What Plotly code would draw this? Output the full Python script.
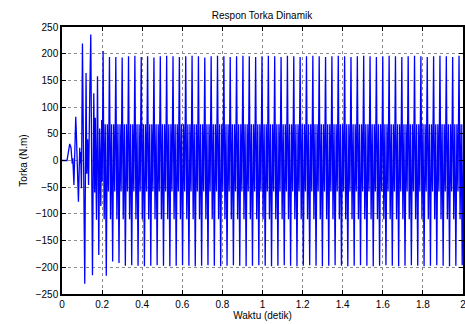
import plotly.graph_objects as go

# ---- data ----
# transient part: extremum times (s) and torque values (N.m)
transient_t = [0.000, 0.025, 0.0385, 0.045, 0.051, 0.054, 0.0595, 0.0685, 0.071,
               0.082, 0.0885, 0.091, 0.093, 0.097, 0.102, 0.1075, 0.1135, 0.120,
               0.1235, 0.128, 0.1325, 0.1385, 0.1435, 0.152, 0.1585, 0.163, 0.166,
               0.172, 0.177, 0.1835, 0.188, 0.1935, 0.198, 0.2005]
transient_v = [0, 0, 31, 24, -6, 4, -46, 82, 57,
               -77, 24, -5, 16, -52, 219, -20, -231, 164,
               -25, 40, -46, 126, 236, -215, 126, -60, 80,
               -111, 158, -177, 60, -85, 76, -40]

# steady state: times of the tall positive peaks (s)
peak_t = [0.205, 0.2367, 0.2684, 0.3001, 0.3318, 0.3635, 0.3952, 0.4269, 0.4586,
          0.4903, 0.522, 0.5537, 0.5854, 0.6171, 0.6488, 0.6805, 0.7122, 0.7439,
          0.7756, 0.8073, 0.839, 0.8707, 0.9024, 0.9341, 0.9658, 0.9975, 1.0292,
          1.0609, 1.0926, 1.1243, 1.156, 1.1877, 1.2194, 1.2511, 1.2828, 1.3145,
          1.3462, 1.3779, 1.4096, 1.4413, 1.473, 1.5047, 1.5364, 1.5681, 1.5998,
          1.6315, 1.6632, 1.6949, 1.7266, 1.7583, 1.79, 1.8217, 1.8534, 1.8851,
          1.9168, 1.9485, 1.9802]
peak_v = [205, 194, 194, 193, 195, 196, 194, 195, 193,
          195, 196, 195, 194, 195, 196, 195, 193, 195,
          196, 195, 194, 195, 196, 195, 194, 195, 196,
          195, 194, 196, 195, 194, 195, 196, 195, 194,
          195, 196, 195, 194, 195, 196, 195, 194, 195,
          196, 195, 194, 195, 196, 195, 194, 195, 196,
          195, 194, 196]
trough_v = [-216, -189, -192, -197, -196, -197, -198, -197, -196,
            -197, -198, -197, -196, -197, -198, -197, -196, -197,
            -198, -197, -196, -197, -198, -197, -196, -197, -198,
            -197, -196, -197, -198, -197, -196, -197, -198, -197,
            -196, -197, -198, -197, -196, -197, -198, -197, -196,
            -197, -198, -197, -196, -197, -198, -197, -196, -197,
            -198, -197, -196]
# shape of one steady cycle: time offsets after each tall peak and inner extrema
cycle_offset = [0.0053, 0.0106, 0.0159, 0.0211, 0.0264]
inner_v = [-110, 68, None, 68, -58]   # None -> the tall trough of that cycle
end_t = [2.0]
end_v = [-85]

# ---- assemble the polyline ----
t_all = list(transient_t)
v_all = list(transient_v)
for pt, pv, tv in zip(peak_t, peak_v, trough_v):
    t_all.append(pt)
    v_all.append(pv)
    for off, iv in zip(cycle_offset, inner_v):
        t_all.append(pt + off)
        v_all.append(tv if iv is None else iv)
t_all += end_t
v_all += end_v

fig = go.Figure()
fig.add_trace(go.Scatter(x=t_all, y=v_all, mode="lines",
                         line=dict(color="#0000ff", width=1.3),
                         showlegend=False, hoverinfo="skip"))

FAM = "Liberation Sans, Arial, sans-serif"
font = dict(family=FAM, size=10, color="black")
axis_common = dict(showline=True, linecolor="black", linewidth=1.5, mirror="allticks",
                   ticks="inside", ticklen=4, tickcolor="black", tickwidth=1,
                   showgrid=True, gridcolor="#8c8c8c", griddash="dot", gridwidth=1,
                   zeroline=False, tickfont=font, ticklabeloverflow="allow",
                   automargin=False)

W, H = 465, 324
fig.update_layout(
    template="none",
    width=W, height=H,
    margin=dict(l=62, r=2, t=27, b=30),
    paper_bgcolor="white", plot_bgcolor="white",
    font=font,
    title=dict(text="Respon Torka Dinamik", x=262 / W, xanchor="center",
               y=1 - 15.5 / H, yanchor="middle",
               font=dict(family=FAM, size=10, color="black")),
    xaxis=dict(range=[0, 2], tickvals=[0, 0.2, 0.4, 0.6, 0.8, 1, 1.2, 1.4, 1.6, 1.8, 2],
               ticktext=["0", "0.2", "0.4", "0.6", "0.8", "1", "1.2", "1.4", "1.6", "1.8", "2"],
               title=dict(text="Waktu (detik)", standoff=2, font=dict(family=FAM, size=10)),
               **axis_common),
    yaxis=dict(range=[-250, 250], tickvals=list(range(-250, 251, 50)),
               title=dict(text="Torka (N.m)", standoff=6, font=dict(family=FAM, size=10)),
               **axis_common),
)

# remove the default page margin so the figure fills the window without scrollbars
fig.write_html("out.html",
               config={"displayModeBar": False},
               post_script="document.body.style.margin='0';"
                           "document.body.style.overflow='hidden';")
